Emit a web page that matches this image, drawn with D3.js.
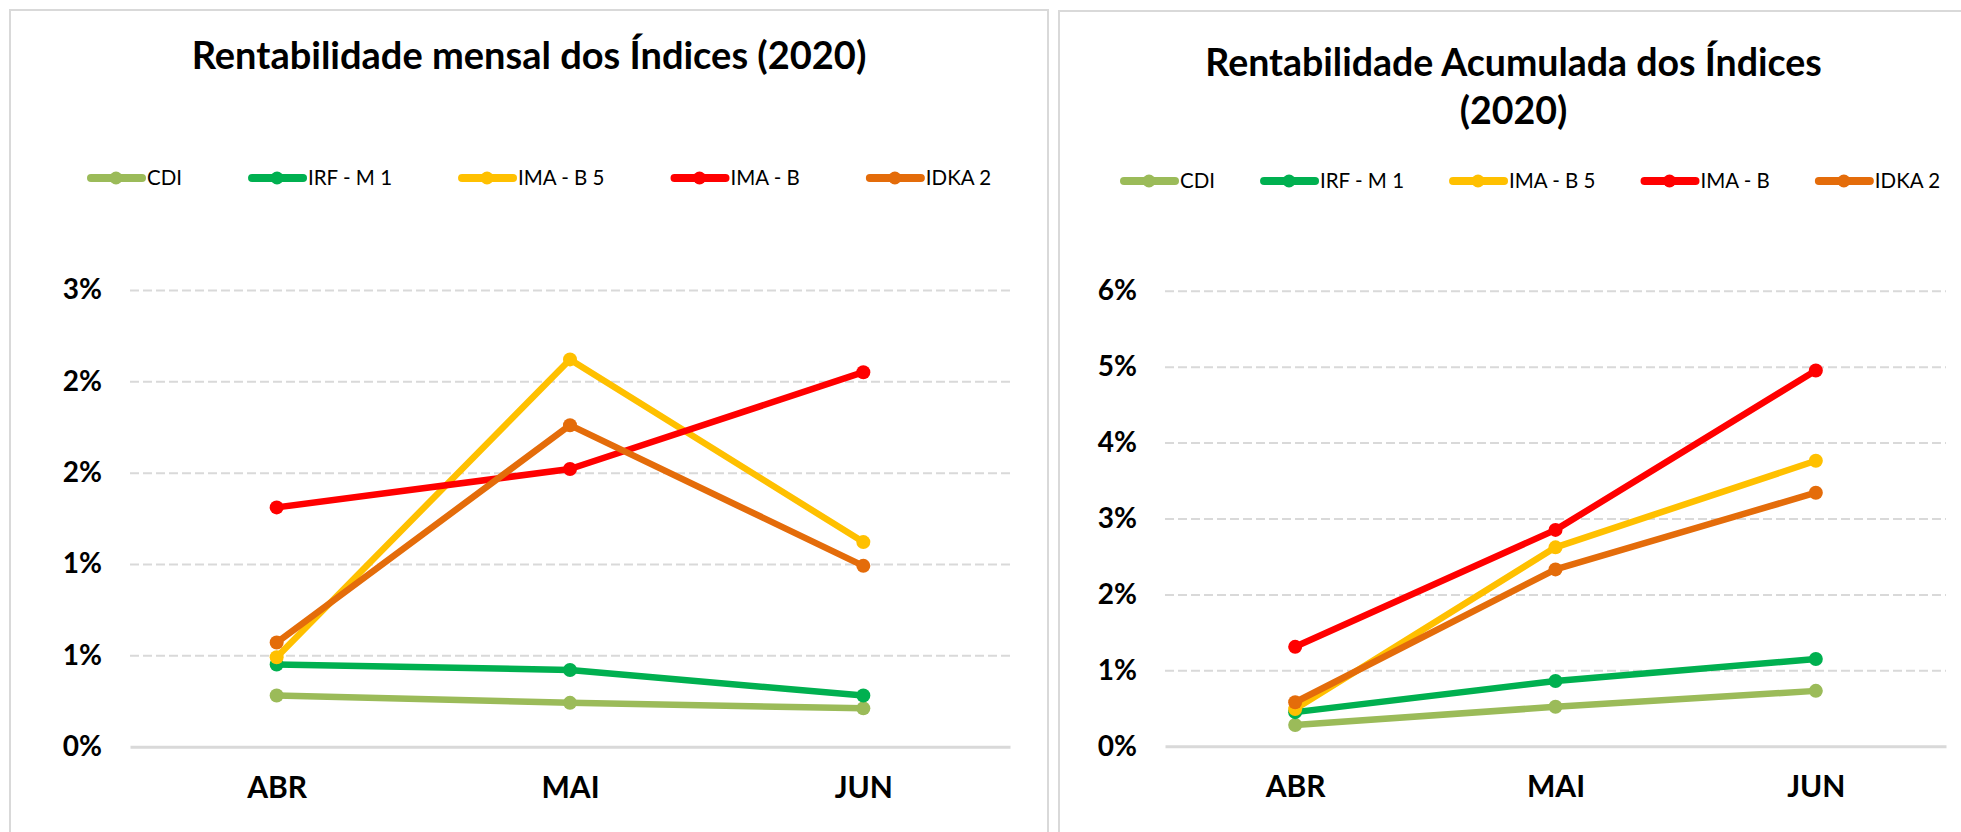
<!DOCTYPE html>
<html>
<head>
<meta charset="utf-8">
<script src="https://cdn.jsdelivr.net/npm/d3@7"></script>
<style>
  body { margin: 0; background: #fff; }
  text { font-family: Lato, "Noto Sans", sans-serif; }
</style>
</head>
<body>
<div id="chart"></div>
<script>
const months = ["ABR", "MAI", "JUN"];
const seriesNames = ["CDI", "IRF - M 1", "IMA - B 5", "IMA - B", "IDKA 2"];
const seriesColors = ["#9BBB59", "#00B050", "#FFC000", "#FF0000", "#E46C0A"];

// rentabilidade mensal (%)
const mensalCDI = [0.28, 0.24, 0.21];
const mensalIRFM1 = [0.45, 0.42, 0.28];
const mensalIMAB5 = [0.49, 2.12, 1.12];
const mensalIMAB = [1.31, 1.52, 2.05];
const mensalIDKA2 = [0.57, 1.76, 0.99];

// rentabilidade acumulada (%)
const acumCDI = [0.28, 0.52, 0.73];
const acumIRFM1 = [0.45, 0.86, 1.15];
const acumIMAB5 = [0.49, 2.62, 3.76];
const acumIMAB = [1.31, 2.85, 4.95];
const acumIDKA2 = [0.58, 2.33, 3.34];

const mensalTicks = [0, 0.5, 1, 1.5, 2, 2.5];
const mensalTickLabels = ["0%", "1%", "1%", "2%", "2%", "3%"];
const acumTicks = [0, 1, 2, 3, 4, 5, 6];
const acumTickLabels = ["0%", "1%", "2%", "3%", "4%", "5%", "6%"];

const width = 1961, height = 832;

const svg = d3.select("#chart")
  .append("svg")
  .attr("width", width)
  .attr("height", height);

function drawPanel(o) {
  const g = svg.append("g");

  g.append("rect")
    .attr("x", o.box[0]).attr("y", o.box[1])
    .attr("width", o.box[2]).attr("height", o.box[3])
    .attr("fill", "#fff")
    .attr("stroke", "#D9D9D9")
    .attr("stroke-width", 2);

  const title = g.append("text")
    .attr("text-anchor", "middle")
    .attr("font-weight", "bold")
    .attr("font-size", o.titleSize)
    .attr("fill", "#000");
  o.title.forEach((t, i) => {
    title.append("tspan").attr("x", o.titleX).attr("y", o.titleY + i * 48).text(t);
  });

  // legend
  let lx = o.legendX;
  seriesNames.forEach((name, i) => {
    const item = g.append("g").attr("transform", `translate(${lx},${o.legendY})`);
    item.append("line")
      .attr("x1", 4).attr("x2", 55)
      .attr("stroke", seriesColors[i])
      .attr("stroke-width", 8)
      .attr("stroke-linecap", "round");
    item.append("circle")
      .attr("cx", 29).attr("r", 6.5)
      .attr("fill", seriesColors[i]);
    const txt = item.append("text")
      .attr("x", 60)
      .attr("dy", "0.36em")
      .attr("font-size", 20.5)
      .attr("fill", "#000")
      .text(name);
    lx += 60 + txt.node().getComputedTextLength() + o.legendGap;
  });

  const x = d3.scalePoint().domain(months).range(o.xRange).padding(0.5);
  const y = d3.scaleLinear().domain([0, d3.max(o.ticks)]).range(o.yRange);

  // dashed gridlines
  const grid = g.append("g")
    .attr("transform", `translate(${o.xRange[0]},0)`)
    .call(d3.axisLeft(y)
      .tickValues(o.ticks.slice(1))
      .tickSize(-(o.xRange[1] - o.xRange[0]))
      .tickFormat(""));
  grid.select(".domain").remove();
  grid.selectAll("line")
    .attr("stroke", "#D9D9D9")
    .attr("stroke-width", 2)
    .attr("stroke-dasharray", "9,4");

  // y labels
  const yAxis = g.append("g")
    .attr("transform", `translate(${o.xRange[0]},0)`)
    .call(d3.axisLeft(y)
      .tickValues(o.ticks)
      .tickSize(0)
      .tickPadding(28)
      .tickFormat((d, i) => o.tickLabels[i]));
  yAxis.select(".domain").remove();
  yAxis.selectAll("text")
    .attr("font-size", 28)
    .attr("font-weight", "bold")
    .attr("fill", "#000");

  // x axis
  const xAxis = g.append("g")
    .attr("transform", `translate(0,${y(0)})`)
    .call(d3.axisBottom(x).tickSize(0).tickSizeOuter(0));
  xAxis.select(".domain")
    .attr("stroke", "#D9D9D9")
    .attr("stroke-width", 3);
  xAxis.selectAll("text")
    .attr("y", 51)
    .attr("dy", 0)
    .attr("font-size", 30)
    .attr("font-weight", "bold")
    .attr("fill", "#000");

  const line = d3.line()
    .x((d, i) => x(months[i]))
    .y(d => y(d));

  o.values.forEach((vals, s) => {
    g.append("path")
      .datum(vals)
      .attr("fill", "none")
      .attr("stroke", seriesColors[s])
      .attr("stroke-width", 6.5)
      .attr("stroke-linejoin", "round")
      .attr("d", line);
    g.selectAll(null)
      .data(vals)
      .enter()
      .append("circle")
      .attr("cx", (d, i) => x(months[i]))
      .attr("cy", d => y(d))
      .attr("r", 7)
      .attr("fill", seriesColors[s]);
  });
}

drawPanel({
  box: [10, 10, 1038, 840],
  title: ["Rentabilidade mensal dos Índices (2020)"],
  titleX: 529, titleY: 69, titleSize: 38,
  legendX: 87, legendY: 178, legendGap: 66,
  xRange: [130, 1010], yRange: [746.7, 290],
  ticks: mensalTicks, tickLabels: mensalTickLabels,
  values: [mensalCDI, mensalIRFM1, mensalIMAB5, mensalIMAB, mensalIDKA2]
});

drawPanel({
  box: [1059, 11, 910, 840],
  title: ["Rentabilidade Acumulada dos Índices", "(2020)"],
  titleX: 1513.5, titleY: 76, titleSize: 37.5,
  legendX: 1120, legendY: 181, legendGap: 45,
  xRange: [1165, 1946], yRange: [746.3, 290.7],
  ticks: acumTicks, tickLabels: acumTickLabels,
  values: [acumCDI, acumIRFM1, acumIMAB5, acumIMAB, acumIDKA2]
});
</script>
</body>
</html>
